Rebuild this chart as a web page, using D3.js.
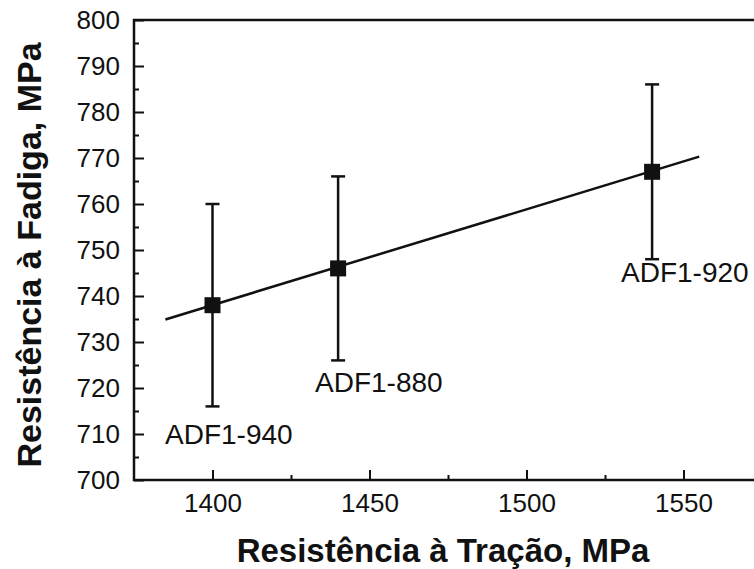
<!DOCTYPE html>
<html><head><meta charset="utf-8">
<script src="https://cdn.jsdelivr.net/npm/d3@7/dist/d3.min.js"></script>
<style>body{margin:0;background:#fff}svg{display:block}text{font-family:"Liberation Sans",Arial,sans-serif;fill:#111}</style>
</head><body>
<script>
const labels = ["ADF1-940","ADF1-880","ADF1-920"];
const tensile = [1400, 1440, 1540];
const fatigue = [738, 746, 767];
const errLow = [716, 726, 748];
const errHigh = [760, 766, 786];
const fitX = [1385, 1555];
const fitY = [734.9, 770.3];
const xTicks = [1400, 1450, 1500, 1550];
const yTicks = [700,710,720,730,740,750,760,770,780,790,800];
const xTitle = "Resistência à Tração, MPa";
const yTitle = "Resistência à Fadiga, MPa";

const W = 754, H = 569;
const svg = d3.select("body").append("svg").attr("width", W).attr("height", H);
const L = 134, T = 20, B = 480;
const x = d3.scaleLinear().domain([1375, 1575]).range([L, L + 628]);
const y = d3.scaleLinear().domain([700, 800]).range([B, T]);
const col = "#111";

// frame
svg.append("rect").attr("x", L).attr("y", T).attr("width", 628).attr("height", B - T)
  .attr("fill", "none").attr("stroke", col).attr("stroke-width", 2.5);

// axes ticks (inward)
const xa = svg.append("g").attr("transform", `translate(0,${B})`)
  .call(d3.axisBottom(x).tickValues(xTicks).tickSize(-10).tickPadding(16).tickFormat(d3.format("d")));
xa.select(".domain").remove();
xa.selectAll("line").attr("stroke", col).attr("stroke-width", 2);
xa.selectAll("text").attr("font-size", 26).attr("dy", "0.71em").attr("y", 14);
svg.append("g").attr("transform", `translate(0,${B})`)
  .call(d3.axisBottom(x).tickValues([1425, 1475, 1525]).tickSize(-5).tickFormat(""))
  .call(g => { g.select(".domain").remove(); g.selectAll("line").attr("stroke", col).attr("stroke-width", 2); });

const ya = svg.append("g").attr("transform", `translate(${L},0)`)
  .call(d3.axisLeft(y).tickValues(yTicks).tickSize(-10).tickPadding(14).tickFormat(d3.format("d")));
ya.select(".domain").remove();
ya.selectAll("line").attr("stroke", col).attr("stroke-width", 2);
ya.selectAll("text").attr("font-size", 26).attr("x", -14);
svg.append("g").attr("transform", `translate(${L},0)`)
  .call(d3.axisLeft(y).tickValues(d3.range(705, 800, 10)).tickSize(-5).tickFormat(""))
  .call(g => { g.select(".domain").remove(); g.selectAll("line").attr("stroke", col).attr("stroke-width", 2); });

// fit line
svg.append("line").attr("x1", x(fitX[0])).attr("y1", y(fitY[0]))
  .attr("x2", x(fitX[1])).attr("y2", y(fitY[1]))
  .attr("stroke", col).attr("stroke-width", 2.5);

// error bars
const cap = 7;
tensile.forEach((t, i) => {
  const g = svg.append("g").attr("stroke", col).attr("stroke-width", 2.5);
  g.append("line").attr("x1", x(t)).attr("x2", x(t)).attr("y1", y(errLow[i])).attr("y2", y(errHigh[i]));
  g.append("line").attr("x1", x(t) - cap).attr("x2", x(t) + cap).attr("y1", y(errLow[i])).attr("y2", y(errLow[i]));
  g.append("line").attr("x1", x(t) - cap).attr("x2", x(t) + cap).attr("y1", y(errHigh[i])).attr("y2", y(errHigh[i]));
  svg.append("rect").attr("x", x(t) - 8).attr("y", y(fatigue[i]) - 8).attr("width", 16).attr("height", 16).attr("fill", col);
});

// point labels
const lblPos = [[165, 444], [315, 392], [621, 282]];
labels.forEach((s, i) => {
  svg.append("text").attr("x", lblPos[i][0]).attr("y", lblPos[i][1]).attr("font-size", 28).text(s);
});

// titles
svg.append("text").attr("x", 443).attr("y", 562).attr("text-anchor", "middle")
  .attr("font-size", 33).attr("font-weight", "bold").text(xTitle);
svg.append("text").attr("transform", "translate(41,255) rotate(-90)").attr("text-anchor", "middle")
  .attr("font-size", 34).attr("font-weight", "bold").text(yTitle);
</script>
</body></html>
